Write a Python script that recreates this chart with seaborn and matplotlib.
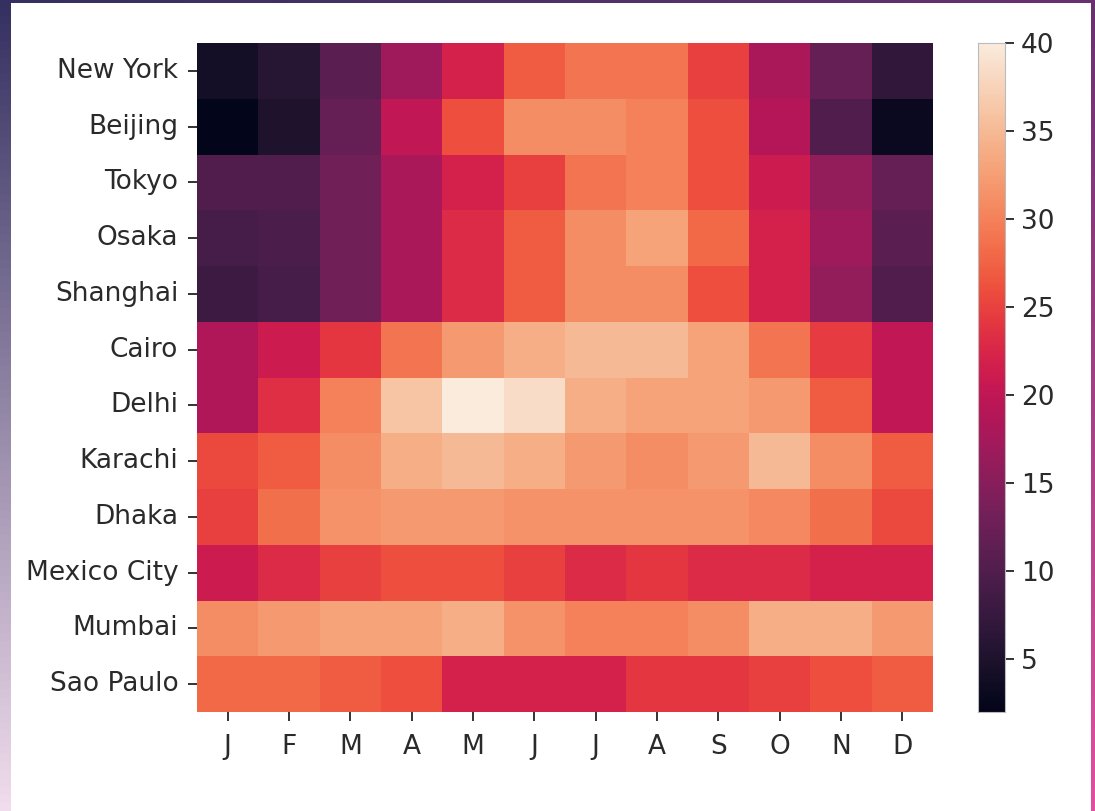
import numpy as np
import pandas as pd
import matplotlib
matplotlib.use("Agg")
import matplotlib.pyplot as plt
import matplotlib.colors as mcolors
import seaborn as sns

cities = ["New York", "Beijing", "Tokyo", "Osaka", "Shanghai", "Cairo", "Delhi",
          "Karachi", "Dhaka", "Mexico City", "Mumbai", "Sao Paulo"]
months = ["J", "F", "M", "A", "M", "J", "J", "A", "S", "O", "N", "D"]

new_york    = [4, 6, 11, 17, 22, 27, 29, 29, 25, 18, 12, 7]
beijing     = [2, 5, 12, 20, 26, 31, 31, 30, 26, 19, 10, 3]
tokyo       = [10, 10, 13, 18, 22, 25, 29, 30, 26, 21, 16, 12]
osaka       = [9, 9.5, 13, 18, 23, 27, 31, 33, 28, 22, 17, 11]
shanghai    = [8, 9, 13, 18, 23, 27, 31, 31, 26, 22, 16, 10]
cairo       = [18.5, 21, 24, 29, 32, 34, 35, 35, 33, 29, 24.5, 20]
delhi       = [18.5, 23.5, 30, 36, 40, 38.5, 34, 33, 33, 32, 27, 20]
karachi     = [25.5, 27, 31, 34, 35, 34, 32, 31, 32, 35, 31, 27]
dhaka       = [25, 28.5, 31.5, 32, 32, 31.5, 31.5, 31.5, 31.5, 30.5, 28.5, 25.5]
mexico_city = [21, 23, 25, 26, 26, 25, 23, 24, 23, 23, 22, 22]
mumbai      = [31, 32, 33, 33, 34, 31.5, 30, 30, 31, 34, 34, 32]
sao_paulo   = [28, 28, 27, 26, 22, 22, 22, 24, 24, 25, 26, 27]

rows = [new_york, beijing, tokyo, osaka, shanghai, cairo, delhi,
        karachi, dhaka, mexico_city, mumbai, sao_paulo]
df = pd.DataFrame(rows, index=cities, columns=range(12))

W, H = 1095, 811
fig = plt.figure(figsize=(W / 100, H / 100), dpi=100)

# decorative slide background gradient
bg = fig.add_axes([0, 0, 1, 1], zorder=-10)
c_tl = np.array(mcolors.to_rgb("#343060"))
c_tr = np.array(mcolors.to_rgb("#6a3070"))
c_bl = np.array(mcolors.to_rgb("#f0dcec"))
c_br = np.array(mcolors.to_rgb("#e050a0"))
ny, nx = 100, 100
yy, xx = np.mgrid[0:1:ny * 1j, 0:1:nx * 1j]
grad = (c_tl[None, None] * ((1 - xx) * (1 - yy))[..., None]
        + c_tr[None, None] * (xx * (1 - yy))[..., None]
        + c_bl[None, None] * ((1 - xx) * yy)[..., None]
        + c_br[None, None] * (xx * yy)[..., None])
bg.imshow(grad, aspect="auto", extent=[0, 1, 0, 1], origin="upper")
bg.add_patch(plt.Rectangle((11 / W, 0), (1091 - 11) / W, (H - 3) / H,
                           transform=bg.transAxes, color="white", lw=0))
bg.set_xlim(0, 1)
bg.set_ylim(0, 1)
bg.axis("off")

ax = fig.add_axes([197 / W, 1 - 712 / H, (933 - 197) / W, (712 - 43) / H])
cax = fig.add_axes([978 / W, 1 - 712 / H, (1005 - 978) / W, (712 - 43) / H])

sns.heatmap(df, ax=ax, cbar_ax=cax, cmap="rocket", xticklabels=months,
            yticklabels=cities)

fs = 19
ax.tick_params(axis="both", labelsize=fs, length=6.5, width=1.4, color="#333333",
               labelcolor="#2a2a2a")
ax.tick_params(axis="x", pad=9)
ax.tick_params(axis="y", pad=7)
ax.set_xticklabels(months, rotation=0)
ax.set_yticklabels(cities, rotation=0)
ax.set_xlabel("")
ax.set_ylabel("")
cax.tick_params(labelsize=fs, length=6.5, width=1.4, color="#333333",
                labelcolor="#2a2a2a", pad=5)
cax.set_yticks([5, 10, 15, 20, 25, 30, 35, 40])
for s in cax.spines.values():
    s.set_visible(True)
    s.set_color("#bbbbbb")

fig.savefig("out.png", dpi=100)
